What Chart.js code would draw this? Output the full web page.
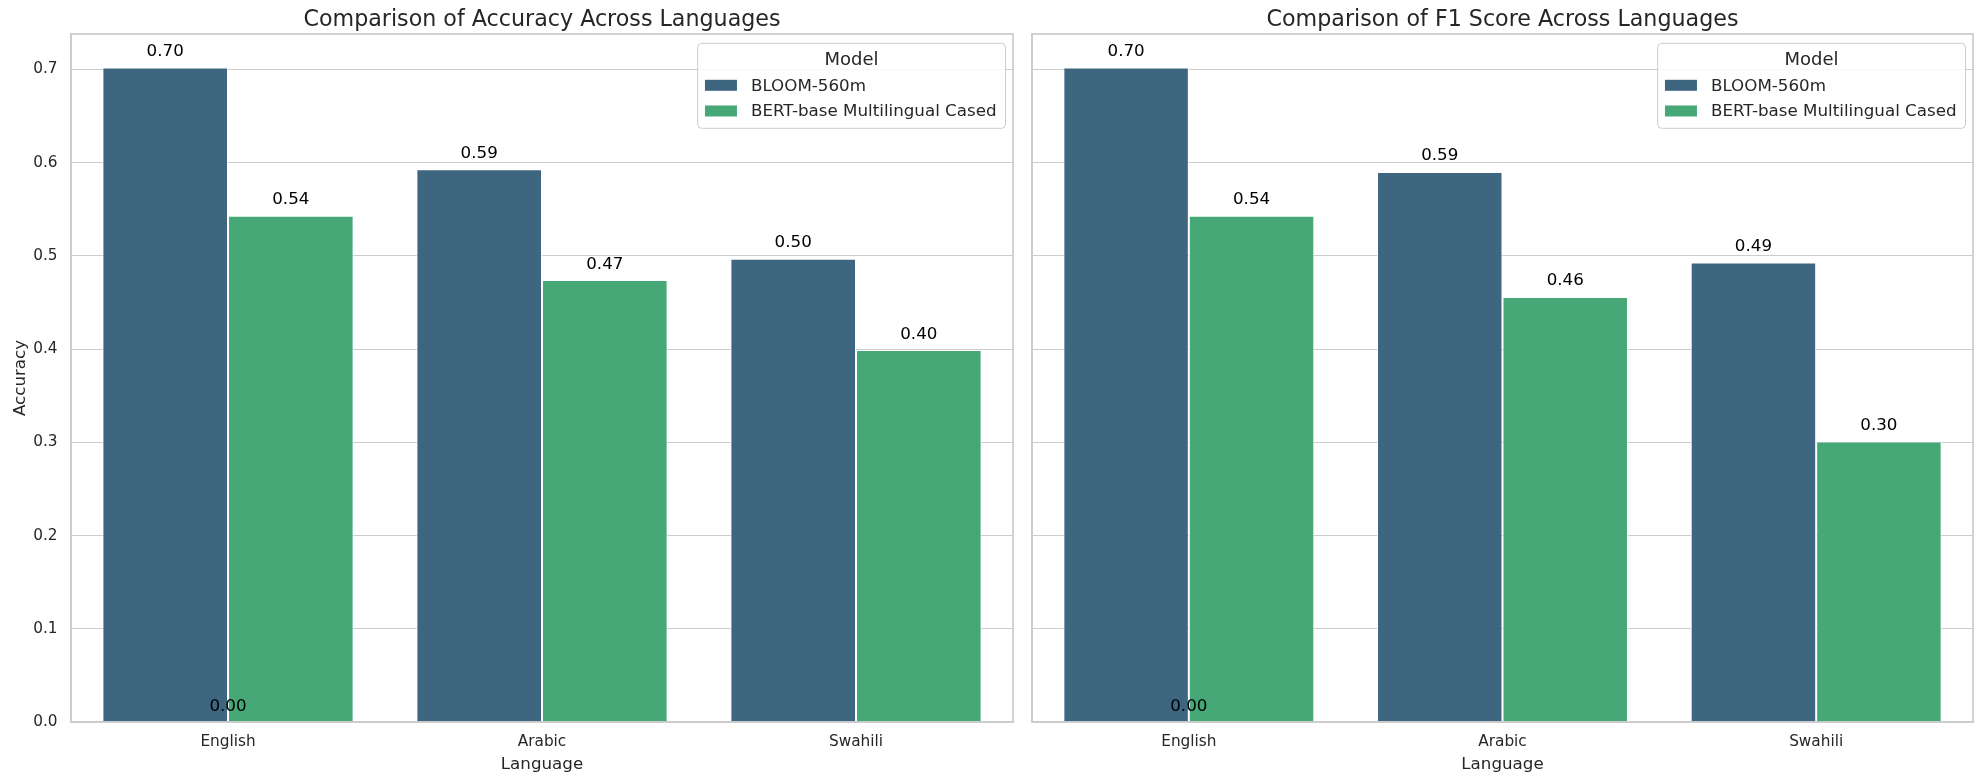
<!DOCTYPE html>
<html>
<head>
<meta charset="utf-8">
<script src="https://cdn.jsdelivr.net/npm/chart.js@4.4.1/dist/chart.umd.min.js"></script>
<style>
    html, body { margin: 0; padding: 0; background: #ffffff; }
    #wrap { position: relative; width: 1984px; height: 784px; }
    canvas { position: absolute; top: 0; }
    #accChart { left: 0; }
    #f1Chart { left: 1022px; }
</style>
</head>
<body>
<div id="wrap">
    <canvas id="accChart" width="1022" height="784"></canvas>
    <canvas id="f1Chart" width="962" height="784"></canvas>
</div>
<script>
const languages = ['English', 'Arabic', 'Swahili'];
const models = ['BLOOM-560m', 'BERT-base Multilingual Cased'];
const modelColors = ['#3e6681', '#46a777'];

const accuracyBloom = [0.702, 0.593, 0.497];
const accuracyBert = [0.543, 0.474, 0.399];
const f1Bloom = [0.702, 0.590, 0.493];
const f1Bert = [0.543, 0.456, 0.301];

// seaborn also annotated a zero-height patch, which shows up as "0.00"
const strayLabels = [{ category: 'English', value: 0 }];

const yMin = 0;
const yMax = 0.738;
const yStep = 0.1;

const FONT = '"DejaVu Sans", "Liberation Sans", sans-serif';
const TEXT = '#262626';
const SPINE = '#cccccc';

// chart area placement inside each canvas
const AREA_TOP = 34;
const X_AXIS_H = 62;

const frameAndText = {
    id: 'frameAndText',
    afterDatasetsDraw(chart, args, opts) {
        const { ctx, chartArea: a } = chart;
        ctx.save();
        // spines
        ctx.strokeStyle = SPINE;
        ctx.lineWidth = 1.7;
        ctx.strokeRect(a.left, a.top, a.right - a.left, a.bottom - a.top);

        // bar values
        ctx.fillStyle = '#000000';
        ctx.font = '16.7px ' + FONT;
        ctx.textAlign = 'center';
        ctx.textBaseline = 'alphabetic';
        chart.data.datasets.forEach((ds, i) => {
            chart.getDatasetMeta(i).data.forEach((bar, j) => {
                ctx.fillText(ds.data[j].toFixed(2), bar.x, bar.y - 11.5);
            });
        });
        const xs = chart.scales.x, ys = chart.scales.y;
        strayLabels.forEach(s => {
            ctx.fillText(s.value.toFixed(2), xs.getPixelForValue(languages.indexOf(s.category)), ys.getPixelForValue(s.value) - 11.5);
        });

        // title
        ctx.fillStyle = TEXT;
        ctx.font = '22.2px ' + FONT;
        ctx.fillText(opts.title, (a.left + a.right) / 2, 25.5);

        // legend box
        ctx.font = '16.7px ' + FONT;
        let tw = 0;
        chart.data.datasets.forEach(ds => { tw = Math.max(tw, ctx.measureText(ds.label).width); });
        const w = 53.3 + tw + 9;
        const h = 85;
        const bx = a.right - 7.5 - w;
        const by = a.top + 9.3;
        ctx.beginPath();
        ctx.roundRect(bx, by, w, h, 4);
        ctx.fillStyle = 'rgba(255,255,255,0.85)';
        ctx.fill();
        ctx.strokeStyle = SPINE;
        ctx.lineWidth = 1;
        ctx.stroke();

        ctx.fillStyle = TEXT;
        ctx.font = '18px ' + FONT;
        ctx.textAlign = 'center';
        ctx.fillText('Model', bx + w / 2, by + 21.7);

        ctx.font = '16.7px ' + FONT;
        ctx.textAlign = 'left';
        ctx.textBaseline = 'middle';
        chart.data.datasets.forEach((ds, i) => {
            const cy = by + 42 + i * 25.7;
            ctx.fillStyle = ds.backgroundColor;
            ctx.fillRect(bx + 7.3, cy - 5.5, 32, 11);
            ctx.fillStyle = TEXT;
            ctx.fillText(ds.label, bx + 53.3, cy + 1);
        });
        ctx.restore();
    }
};

function makeChart(canvasId, bloomValues, bertValues, title, yTitle, yWidth, rightPad) {
    return new Chart(document.getElementById(canvasId), {
        type: 'bar',
        data: {
            labels: languages,
            datasets: [{
                label: models[0],
                data: bloomValues,
                backgroundColor: modelColors[0],
                borderColor: 'rgba(255,255,255,0.9)',
                borderWidth: 1
            }, {
                label: models[1],
                data: bertValues,
                backgroundColor: modelColors[1],
                borderColor: 'rgba(255,255,255,0.9)',
                borderWidth: 1
            }]
        },
        options: {
            responsive: false,
            animation: false,
            devicePixelRatio: 1,
            layout: {
                padding: { left: 0, right: rightPad, top: AREA_TOP, bottom: 0 }
            },
            datasets: {
                bar: { categoryPercentage: 0.8, barPercentage: 1.0 }
            },
            plugins: {
                legend: { display: false },
                tooltip: { enabled: false },
                frameAndText: { title: title }
            },
            scales: {
                x: {
                    grid: { display: false, drawTicks: false },
                    border: { display: true, color: SPINE, width: 1.7 },
                    ticks: {
                        color: TEXT,
                        font: { family: FONT, size: 15.3 },
                        padding: 11
                    },
                    title: {
                        display: true,
                        text: 'Language',
                        color: TEXT,
                        font: { family: FONT, size: 16.7 },
                        padding: { top: 0, bottom: 9 }
                    },
                    afterFit(scale) { scale.height = X_AXIS_H; }
                },
                y: {
                    min: yMin,
                    max: yMax,
                    grid: { color: SPINE, lineWidth: 1.1, drawTicks: false },
                    border: { display: true, color: SPINE, width: 1.7 },
                    ticks: {
                        display: !!yTitle,
                        stepSize: yStep,
                        includeBounds: false,
                        color: TEXT,
                        font: { family: FONT, size: 15.3 },
                        padding: 13.5,
                        callback: v => v.toFixed(1)
                    },
                    title: {
                        display: !!yTitle,
                        text: yTitle,
                        color: TEXT,
                        font: { family: FONT, size: 16.7 },
                        padding: { top: 11, bottom: 0 }
                    },
                    afterFit(scale) { scale.width = yWidth; }
                }
            }
        },
        plugins: [frameAndText]
    });
}

makeChart('accChart', accuracyBloom, accuracyBert, 'Comparison of Accuracy Across Languages', 'Accuracy', 71, 9);
makeChart('f1Chart', f1Bloom, f1Bert, 'Comparison of F1 Score Across Languages', '', 10, 11);
</script>
</body>
</html>
